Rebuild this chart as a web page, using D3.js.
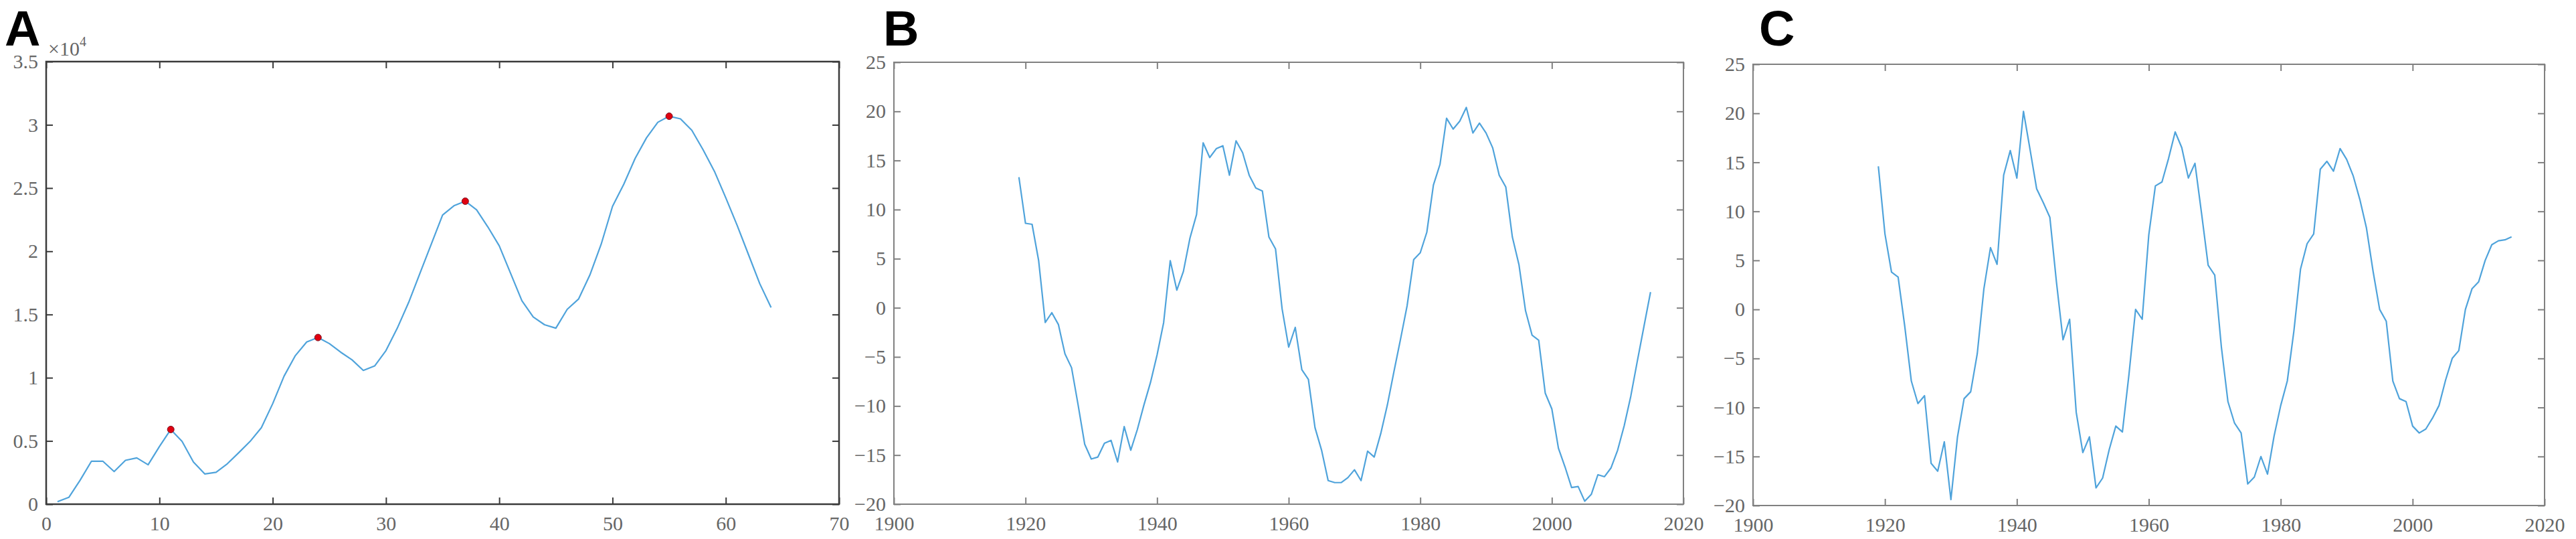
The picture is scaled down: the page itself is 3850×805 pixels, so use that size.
<!DOCTYPE html>
<html>
<head>
<meta charset="utf-8">
<script src="https://cdn.jsdelivr.net/npm/d3@7"></script>
<style>
  body { margin: 0; background: #fff; }
  svg { display: block; }
  .panel-label { font-family: "Liberation Sans", Arial, sans-serif; font-weight: bold; font-size: 74px; fill: #000; }
</style>
</head>
<body>
<div id="chart"></div>
<script>
// Panel A: index 1..64, value
var aValues = [200, 540, 1900, 3400, 3400, 2580, 3470, 3660, 3120, 4560,
  5910, 4960, 3340, 2390, 2520, 3200, 4070, 4960, 6050, 7950,
  10120, 11750, 12830, 13180, 12700, 12020, 11420, 10580, 10930, 12150,
  13920, 15950, 18260, 20560, 22870, 23600, 23960, 23280, 21920, 20430,
  18260, 16090, 14810, 14190, 13920, 15410, 16220, 18120, 20560, 23550,
  25310, 27350, 28970, 30200, 30680, 30470, 29570, 28020, 26320, 24230,
  22060, 19750, 17440, 15550];
var aPeaks = [11, 24, 37, 55];
var aXTicks = [0, 10, 20, 30, 40, 50, 60, 70];
var aYTicks = [0, 5000, 10000, 15000, 20000, 25000, 30000, 35000];
var aYLabels = ["0", "0.5", "1", "1.5", "2", "2.5", "3", "3.5"];

// Panels B and C: years 1919..2015
var years = d3.range(1919, 2016);
var bValues = [13.3, 8.6, 8.5, 4.8, -1.5, -0.5, -1.7, -4.7, -6.1, -9.9,
  -13.9, -15.4, -15.2, -13.8, -13.5, -15.7, -12.1, -14.5, -12.4, -9.9,
  -7.6, -4.8, -1.5, 4.8, 1.8, 3.7, 7.1, 9.5, 16.8, 15.3,
  16.2, 16.5, 13.5, 17.0, 15.8, 13.5, 12.2, 11.9, 7.2, 6.0,
  -0.1, -4.0, -2.0, -6.3, -7.3, -12.2, -14.5, -17.6, -17.8, -17.8,
  -17.3, -16.5, -17.6, -14.6, -15.2, -12.8, -9.9, -6.5, -3.2, 0.2,
  4.9, 5.6, 7.7, 12.5, 14.6, 19.3, 18.2, 19.0, 20.4, 17.8,
  18.8, 17.8, 16.3, 13.5, 12.3, 7.2, 4.4, -0.3, -2.8, -3.3,
  -8.7, -10.3, -14.3, -16.2, -18.3, -18.2, -19.7, -19.0, -17.0, -17.2,
  -16.3, -14.5, -12.0, -9.0, -5.4, -1.9, 1.6];
var cValues = [14.6, 7.7, 3.8, 3.3, -1.7, -7.3, -9.6, -8.8, -15.7, -16.5,
  -13.5, -19.4, -13.0, -9.1, -8.4, -4.5, 2.1, 6.3, 4.6, 13.7,
  16.2, 13.4, 20.2, 16.3, 12.3, 10.9, 9.4, 2.8, -3.1, -1.0,
  -10.5, -14.6, -13.0, -18.2, -17.2, -14.3, -11.9, -12.5, -6.6, 0.0,
  -1.0, 7.6, 12.6, 13.0, 15.4, 18.1, 16.5, 13.4, 14.9, 9.8,
  4.5, 3.5, -3.8, -9.4, -11.6, -12.6, -17.8, -17.1, -15.0, -16.8,
  -12.9, -9.8, -7.3, -2.2, 4.1, 6.7, 7.7, 14.3, 15.1, 14.1,
  16.4, 15.3, 13.6, 11.2, 8.3, 3.9, 0.0, -1.2, -7.3, -9.1,
  -9.4, -11.9, -12.6, -12.2, -11.1, -9.8, -7.2, -5.0, -4.2, 0.0,
  2.1, 2.8, 5.0, 6.6, 7.0, 7.1, 7.4];
var yearTicks = [1900, 1920, 1940, 1960, 1980, 2000, 2020];
var bcYTicks = [-20, -15, -10, -5, 0, 5, 10, 15, 20, 25];

var lineColor = "#4fa3db";
var tickFont = "'Liberation Serif', 'DejaVu Serif', serif";

var svg = d3.select("#chart").append("svg")
  .attr("width", 3850)
  .attr("height", 805);

function drawPanel(opt) {
  var x = d3.scaleLinear().domain(opt.xDomain).range([opt.left, opt.right]);
  var y = d3.scaleLinear().domain(opt.yDomain).range([opt.bottom, opt.top]);
  var g = svg.append("g");

  // ticks on all four sides, pointing inward
  var bottomAxis = d3.axisBottom(x).tickValues(opt.xTicks).tickSize(-10).tickPadding(18)
    .tickFormat(d3.format("d"));
  var topAxis = d3.axisTop(x).tickValues(opt.xTicks).tickSize(-10).tickFormat("");
  var leftAxis = d3.axisLeft(y).tickValues(opt.yTicks).tickSize(-10).tickPadding(12)
    .tickFormat(opt.yFormat || d3.format("d"));
  var rightAxis = d3.axisRight(y).tickValues(opt.yTicks).tickSize(-10).tickFormat("");

  [[bottomAxis, "translate(0," + opt.bottom + ")"],
   [topAxis, "translate(0," + opt.top + ")"],
   [leftAxis, "translate(" + opt.left + ",0)"],
   [rightAxis, "translate(" + opt.right + ",0)"]].forEach(function(a) {
    var ag = g.append("g").attr("transform", a[1]).call(a[0]);
    ag.select(".domain").remove();
    ag.selectAll(".tick line").attr("stroke", opt.frameColor).attr("stroke-width", 2);
    ag.selectAll(".tick text")
      .style("font-family", tickFont)
      .style("font-size", "30px")
      .style("fill", "#666");
  });

  g.append("rect")
    .attr("x", opt.left)
    .attr("y", opt.top)
    .attr("width", opt.right - opt.left)
    .attr("height", opt.bottom - opt.top)
    .attr("fill", "none")
    .attr("stroke", opt.frameColor)
    .attr("stroke-width", opt.frameWidth);

  var line = d3.line()
    .x(function(d) { return x(d[0]); })
    .y(function(d) { return y(d[1]); });

  g.append("path")
    .datum(opt.data)
    .attr("d", line)
    .attr("fill", "none")
    .attr("stroke", lineColor)
    .attr("stroke-width", 2.2)
    .attr("stroke-linejoin", "round");

  if (opt.peaks) {
    g.selectAll("circle.peak")
      .data(opt.data.filter(function(d) { return opt.peaks.includes(d[0]); }))
      .enter().append("circle")
      .attr("class", "peak")
      .attr("cx", function(d) { return x(d[0]); })
      .attr("cy", function(d) { return y(d[1]); })
      .attr("r", 5)
      .attr("fill", "#e00010")
      .attr("stroke", "#7a1020")
      .attr("stroke-width", 1);
  }

  svg.append("text")
    .attr("class", "panel-label")
    .attr("x", opt.labelX)
    .attr("y", 68)
    .text(opt.label);

  return { x: x, y: y };
}

drawPanel({
  label: "A", labelX: 7,
  left: 69, right: 1254, top: 92, bottom: 753,
  xDomain: [0, 70], yDomain: [0, 35000],
  xTicks: aXTicks, yTicks: aYTicks,
  yFormat: function(d, i) { return aYLabels[i]; },
  frameColor: "#3a3a3a", frameWidth: 2.5,
  data: aValues.map(function(v, i) { return [i + 1, v]; }),
  peaks: aPeaks
});

// the x10^4 exponent above panel A
var expText = svg.append("text")
  .attr("x", 72)
  .attr("y", 83)
  .style("font-family", tickFont)
  .style("font-size", "30px")
  .style("fill", "#666");
expText.append("tspan").text("\u00d710");
expText.append("tspan").attr("dy", -14).style("font-size", "20px").text("4");

drawPanel({
  label: "B", labelX: 1320,
  left: 1336, right: 2516, top: 93, bottom: 753,
  xDomain: [1900, 2020], yDomain: [-20, 25],
  xTicks: yearTicks, yTicks: bcYTicks,
  frameColor: "#808080", frameWidth: 2,
  data: years.map(function(yr, i) { return [yr, bValues[i]]; })
});

drawPanel({
  label: "C", labelX: 2629,
  left: 2620, right: 3803, top: 96, bottom: 755,
  xDomain: [1900, 2020], yDomain: [-20, 25],
  xTicks: yearTicks, yTicks: bcYTicks,
  frameColor: "#808080", frameWidth: 2,
  data: years.map(function(yr, i) { return [yr, cValues[i]]; })
});
</script>
</body>
</html>
